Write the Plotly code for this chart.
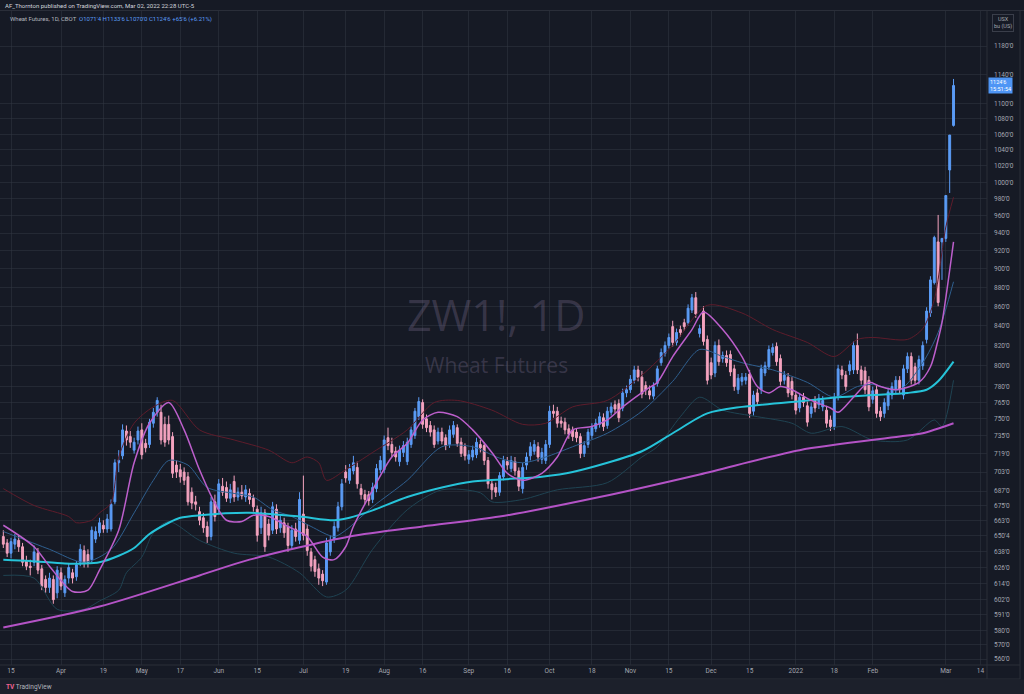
import pandas as pd
import plotly.graph_objects as go
import math

# ---------------- data ----------------
holidays = ["2021-04-02", "2021-05-31", "2021-07-05", "2021-09-06", "2021-11-25",
            "2021-12-24", "2022-01-17", "2022-02-21"]
dates = [d.strftime("%Y-%m-%d") for d in pd.bdate_range("2021-03-11", "2022-03-03")
         if d.strftime("%Y-%m-%d") not in holidays]

opens = [650, 645, 637, 644, 647, 642, 631, 627, 630, 637,
         625, 617, 611, 617, 607, 622, 607, 618, 622, 619,
         630, 639, 636, 632, 648, 653, 659, 656, 656, 678,
         711, 717, 739, 734, 722, 731, 740, 728, 727, 746,
         756, 756, 745, 745, 734, 709, 705, 703, 699, 686,
         678, 670, 665, 658, 650, 678, 672, 691, 690, 681,
         695, 682, 686, 682, 685, 681, 672, 657, 669, 660,
         655, 672, 657, 661, 658, 643, 656, 647, 668, 656,
         638, 632, 625, 621, 615, 638, 648, 657, 674, 703,
         696, 704, 707, 689, 684, 684, 680, 689, 705, 705,
         733, 727, 721, 712, 720, 712, 727, 735, 752, 765,
         750, 744, 740, 730, 738, 733, 727, 736, 742, 729,
         725, 714, 716, 718, 727, 726, 713, 693, 690, 686,
         699, 712, 706, 712, 704, 689, 709, 717, 721, 725,
         714, 713, 727, 757, 757, 748, 747, 741, 740, 738,
         734, 719, 727, 735, 741, 745, 751, 744, 756, 763,
         764, 760, 774, 777, 786, 796, 789, 781, 776, 771,
         783, 803, 812, 820, 839, 823, 836, 843, 843, 856,
         869, 832, 855, 826, 803, 793, 820, 807, 810, 811,
         797, 777, 785, 786, 792, 757, 774, 777, 793, 799,
         813, 819, 807, 786, 789, 785, 772, 760, 770, 762,
         755, 767, 763, 761, 758, 749, 743, 770, 796, 791,
         795, 796, 820, 796, 795, 786, 768, 777, 757, 755,
         762, 772, 777, 786, 772, 797, 809, 799, 786, 800,
         826, 853, 885, 930, 930, 934, 1015, 1071.5]

highs = [655, 648, 649, 652, 651, 645, 635, 632, 643, 641,
         628, 620, 622, 620, 627, 626, 620, 629, 625, 631,
         644, 643, 640, 658, 658, 665, 663, 668, 680, 714,
         722, 745, 744, 739, 733, 743, 746, 732, 750, 760,
         770, 763, 752, 753, 738, 713, 710, 707, 703, 690,
         683, 674, 669, 662, 682, 684, 697, 698, 695, 693,
         700, 690, 692, 692, 689, 684, 675, 674, 672, 664,
         678, 676, 667, 665, 661, 659, 661, 686, 700, 660,
         641, 635, 629, 624, 649, 651, 662, 678, 697, 709,
         710, 717, 712, 693, 688, 687, 694, 710, 717, 735,
         742, 733, 725, 726, 730, 733, 743, 760, 770, 768,
         754, 748, 744, 742, 742, 736, 744, 748, 745, 733,
         728, 722, 726, 733, 731, 729, 716, 697, 694, 703,
         717, 716, 717, 716, 707, 711, 720, 729, 731, 729,
         724, 731, 762, 763, 761, 752, 751, 745, 743, 741,
         737, 730, 741, 746, 750, 756, 755, 761, 765, 767,
         768, 778, 781, 791, 800, 800, 795, 785, 781, 784,
         800, 817, 824, 832, 845, 837, 840, 847, 862, 873,
         875, 841, 860, 830, 808, 824, 826, 814, 815, 815,
         801, 792, 793, 793, 796, 776, 778, 801, 804, 820,
         822, 823, 811, 795, 793, 789, 776, 774, 774, 766,
         765, 771, 773, 771, 762, 753, 774, 801, 800, 795,
         805, 824, 832, 800, 799, 790, 780, 781, 761, 769,
         779, 784, 790, 790, 801, 813, 813, 803, 810, 824,
         859, 892, 937, 961, 934, 984, 1059, 1133.75]

lows = [641, 634, 633, 640, 638, 627, 624, 620, 627, 621,
        609, 607, 607, 599, 603, 609, 604, 614, 614, 616,
        627, 626, 626, 630, 645, 650, 653, 653, 654, 676,
        703, 714, 726, 724, 719, 727, 714, 720, 724, 742,
        752, 727, 725, 727, 698, 698, 694, 692, 675, 672,
        671, 659, 653, 645, 647, 662, 669, 683, 678, 677,
        678, 679, 680, 678, 676, 670, 646, 652, 638, 647,
        652, 652, 653, 649, 638, 640, 646, 644, 647, 635,
        623, 619, 613, 612, 613, 635, 645, 654, 671, 694,
        693, 701, 689, 680, 676, 675, 677, 686, 702, 702,
        722, 716, 712, 708, 716, 709, 724, 732, 749, 741,
        738, 734, 724, 727, 727, 722, 724, 733, 725, 716,
        713, 710, 713, 715, 720, 709, 689, 680, 682, 683,
        696, 705, 703, 700, 687, 685, 705, 713, 718, 712,
        710, 710, 724, 751, 742, 742, 736, 732, 730, 729,
        715, 716, 724, 732, 738, 742, 739, 741, 753, 755,
        747, 757, 770, 774, 783, 785, 769, 772, 768, 768,
        780, 800, 809, 817, 819, 820, 829, 835, 840, 853,
        848, 828, 820, 782, 787, 789, 800, 803, 799, 790,
        776, 773, 781, 782, 751, 753, 762, 773, 790, 796,
        810, 800, 781, 782, 770, 768, 754, 756, 761, 743,
        751, 756, 759, 757, 742, 739, 740, 767, 787, 776,
        791, 792, 792, 782, 773, 757, 764, 751, 748, 751,
        758, 768, 773, 773, 768, 793, 782, 782, 782, 796,
        822, 849, 883, 860, 888, 930, 987, 1070]

closes = [644, 637, 646, 648, 642, 630, 627, 626, 638, 624,
          612, 611, 618, 602, 624, 612, 617, 626, 618, 628,
          640, 629, 630, 655, 654, 661, 656, 664, 676, 711,
          713, 740, 731, 729, 729, 739, 718, 724, 747, 756,
          767, 731, 729, 731, 702, 703, 699, 696, 678, 677,
          676, 663, 657, 650, 678, 666, 693, 686, 681, 688,
          682, 686, 683, 688, 680, 674, 651, 669, 642, 651,
          674, 656, 663, 653, 643, 655, 650, 680, 651, 639,
          627, 623, 618, 616, 645, 647, 658, 674, 693, 698,
          706, 711, 693, 684, 680, 679, 690, 706, 713, 731,
          726, 720, 716, 722, 726, 729, 740, 757, 766, 745,
          742, 738, 727, 738, 730, 726, 740, 744, 728, 719,
          717, 718, 722, 729, 724, 713, 693, 688, 686, 700,
          713, 709, 713, 704, 691, 707, 716, 725, 727, 716,
          720, 727, 757, 755, 746, 746, 740, 736, 734, 733,
          719, 726, 738, 742, 746, 752, 743, 757, 761, 759,
          751, 774, 777, 787, 796, 789, 773, 777, 772, 780,
          797, 813, 820, 828, 823, 833, 833, 839, 858, 869,
          852, 837, 824, 786, 791, 820, 804, 810, 803, 794,
          780, 788, 789, 789, 755, 772, 766, 797, 800, 816,
          818, 804, 785, 791, 774, 772, 758, 770, 765, 747,
          761, 760, 769, 767, 746, 743, 770, 797, 791, 780,
          801, 820, 796, 786, 777, 761, 776, 755, 752, 765,
          775, 780, 786, 777, 797, 809, 786, 786, 806, 820,
          855, 888, 935, 864, 934, 984, 1059, 1124.75]

# indicator lines: positions in `dates` and values
ma200_pos = [0, 25, 51, 64, 90, 109, 129, 155, 181, 207, 233, 239, 247]
ma200_val = [582, 597, 620, 632, 650, 658, 666, 682, 701, 722, 734, 737, 746]

ma100_pos = [0, 7, 16, 21, 25, 30, 34, 38, 43, 46, 51, 64, 77, 86, 90, 96, 105, 114, 122,
             140, 148, 166, 174, 183, 192, 209, 217, 226, 235, 240, 243, 247]
ma100_val = [632, 631, 629, 629, 630, 635, 641, 652, 661, 665, 667, 669, 666, 663, 665, 671,
             682, 690, 695, 699, 703, 721, 737, 755, 761, 767, 770, 772, 774, 777, 785, 804]

fast_pos = [0, 8, 12, 18, 22, 25, 30, 34, 38, 43, 47, 51, 55, 58, 62, 65, 69, 74, 79, 83, 86,
            89, 91, 96, 101, 105, 109, 113, 118, 122, 127, 131, 135, 140, 144, 148, 153, 157,
            161, 167, 170, 174, 179, 182, 187, 192, 196, 199, 202, 205, 210, 215, 217, 221,
            225, 228, 232, 238, 241, 243, 244, 247]
fast_val = [659, 642, 627, 608, 609, 624, 655, 711, 746, 765, 740, 705, 677, 663, 662, 667,
            666, 658, 650, 634, 632, 642, 658, 688, 716, 728, 749, 756, 752, 740, 720, 702,
            696, 702, 716, 740, 743, 749, 761, 777, 784, 809, 836, 854, 836, 809, 780, 774,
            780, 777, 767, 760, 756, 770, 784, 780, 777, 784, 799, 826, 843, 930]

basis_pos = [0, 12, 21, 28, 34, 39, 43, 48, 53, 60, 65, 70, 75, 80, 86, 89, 96, 105, 114,
             122, 129, 135, 141, 148, 157, 166, 174, 181, 187, 192, 200, 209, 216, 222, 226,
             233, 239, 243, 247]
basis_val = [654, 640, 630, 640, 669, 696, 713, 709, 690, 685, 682, 671.5, 666, 658, 650,
             655, 674, 696, 725, 725, 715, 711, 716, 725, 737, 757, 785, 816, 809, 803, 796,
             784, 770, 780, 782, 777, 803, 833, 886]

upper_pos = [0, 8, 17, 19, 23, 25, 28, 30, 34, 39, 44, 51, 60, 69, 75, 79, 82, 84, 89, 96,
             105, 112, 118, 127, 135, 141, 148, 157, 166, 174, 183, 192, 200, 209, 216, 222,
             226, 235, 239, 242, 245, 247]
upper_val = [689, 675, 666, 661, 663, 669, 677, 716, 746, 761, 767, 740, 731, 722, 711, 716,
             711, 696, 705, 720, 740, 765, 767, 758, 745, 746, 761, 767, 791, 820, 861, 853,
             836, 823, 809, 826, 828, 826, 837, 867, 947, 982]

lower_pos = [0, 8, 14, 21, 25, 30, 32, 36, 39, 43, 51, 60, 69, 77, 84, 89, 96, 105, 114, 124,
             127, 135, 144, 157, 166, 170, 176, 181, 187, 196, 205, 210, 218, 226, 235, 242,
             244, 247]
lower_val = [620, 618, 595, 595, 601, 609, 622, 634, 653, 662, 647, 637, 634, 622, 604, 609,
             640, 671.5, 688, 685.5, 678, 680, 688, 694, 716, 725, 752, 770, 758, 752, 746,
             737, 743, 731, 731, 749, 743, 786]

tick_dates = ["2021-03-15", "2021-04-01", "2021-04-19", "2021-05-03", "2021-05-17",
              "2021-06-01", "2021-06-15", "2021-07-01", "2021-07-19", "2021-08-02",
              "2021-08-16", "2021-09-01", "2021-09-16", "2021-10-01", "2021-10-18",
              "2021-11-01", "2021-11-15", "2021-12-01", "2021-12-15", "2022-01-03",
              "2022-01-18", "2022-02-01", "2022-03-01", "2022-03-14"]
tick_labels = ["15", "Apr", "19", "May", "17", "Jun", "15", "Jul", "19", "Aug", "16", "Sep",
               "16", "Oct", "18", "Nov", "15", "Dec", "15", "2022", "18", "Feb", "Mar", "14"]

price_ticks = [560, 570, 580, 591, 602, 614, 626, 638, 650.5, 663, 675, 687, 703, 719, 735,
               750, 765, 780, 800, 820, 840, 860, 880, 900, 920, 940, 960, 980, 1000, 1020,
               1040, 1060, 1080, 1100, 1140, 1180]
price_labels = ["560'0", "570'0", "580'0", "591'0", "602'0", "614'0", "626'0", "638'0",
                "650'4", "663'0", "675'0", "687'0", "703'0", "719'0", "735'0", "750'0",
                "765'0", "780'0", "800'0", "820'0", "840'0", "860'0", "880'0", "900'0",
                "920'0", "940'0", "960'0", "980'0", "1000'0", "1020'0", "1040'0", "1060'0",
                "1080'0", "1100'0", "1140'0", "1180'0"]

# ---------------- style ----------------
BG = "#161a25"
GRID = "rgba(50,54,66,0.55)"
UP = "#5b9cf6"
DOWN = "#f4a3bf"
TXT = "#a3a6af"

W, H = 1024, 694
L, R, T, B = 0, 37, 11, 29
PW, PH = W - L - R, H - T - B


def px(xp):
    return (xp - L) / PW


def py(yp):
    return (H - B - yp) / PH


fig = go.Figure()

for pos, val, col, wid in [
    (upper_pos, upper_val, "#5e1c2b", 1),
    (lower_pos, lower_val, "#1f4352", 1),
    (basis_pos, basis_val, "#2f5f8f", 1),
]:
    fig.add_trace(go.Scatter(x=[dates[i] for i in pos], y=val, mode="lines",
                             line=dict(color=col, width=wid, shape="spline", smoothing=0.8),
                             hoverinfo="skip", showlegend=False))

fig.add_trace(go.Candlestick(
    x=dates, open=opens, high=highs, low=lows, close=closes,
    increasing=dict(line=dict(color=UP, width=1), fillcolor=UP),
    decreasing=dict(line=dict(color=DOWN, width=1), fillcolor=DOWN),
    whiskerwidth=0, showlegend=False, hoverinfo="skip"))

for pos, val, col, wid in [
    (ma200_pos, ma200_val, "#b453c6", 2),
    (ma100_pos, ma100_val, "#26c3d9", 2),
    (fast_pos, fast_val, "#bd5fcc", 1.5),
]:
    fig.add_trace(go.Scatter(x=[dates[i] for i in pos], y=val, mode="lines",
                             line=dict(color=col, width=wid, shape="spline", smoothing=0.8),
                             hoverinfo="skip", showlegend=False))

last_close = closes[-1]

fig.update_layout(
    width=W, height=H,
    margin=dict(l=L, r=R, t=T, b=B),
    paper_bgcolor=BG, plot_bgcolor=BG,
    showlegend=False,
    xaxis=dict(
        type="date",
        rangebreaks=[dict(bounds=["sat", "mon"]), dict(values=holidays)],
        range=["2021-03-10 03:20", "2022-03-15 16:48"],
        tickmode="array", tickvals=tick_dates, ticktext=tick_labels,
        tickfont=dict(size=6.5, color=TXT, family="Roboto"),
        showgrid=True, gridcolor=GRID, gridwidth=1,
        zeroline=False, showline=False, ticks="",
        rangeslider=dict(visible=False), fixedrange=True,
    ),
    yaxis=dict(
        type="log", side="right",
        range=[2.7451, 3.0904],
        tickmode="array", tickvals=price_ticks, ticktext=price_labels,
        tickfont=dict(size=6.5, color=TXT, family="Roboto"),
        showgrid=True, gridcolor=GRID, gridwidth=1,
        zeroline=False, showline=False, ticks="",
        ticklabelstandoff=6,
    ),
)

shapes = [
    # last price line
    dict(type="line", xref="paper", yref="y", x0=0, x1=1,
         y0=math.log10(last_close), y1=math.log10(last_close),
         line=dict(color="rgba(91,156,246,0.55)", width=1, dash="dot")),
    # header separator
    dict(type="line", xref="paper", yref="paper", x0=px(0), x1=px(W), y0=py(10.5), y1=py(10.5),
         line=dict(color="#2a2e39", width=1)),
    # price axis separator
    dict(type="line", xref="paper", yref="paper", x0=1, x1=1, y0=py(679), y1=py(11),
         line=dict(color="#2a2e39", width=1)),
    dict(type="line", xref="paper", yref="paper", x0=px(1020), x1=px(1020), y0=py(679), y1=py(11),
         line=dict(color="#2a2e39", width=1)),
    # time axis borders
    dict(type="line", xref="paper", yref="paper", x0=0, x1=px(1020), y0=0, y1=0,
         line=dict(color="#2a2e39", width=1)),
    dict(type="line", xref="paper", yref="paper", x0=0, x1=px(1020), y0=py(679), y1=py(679),
         line=dict(color="#2a2e39", width=1)),
    # footer
    dict(type="rect", xref="paper", yref="paper", x0=px(0), x1=px(W), y0=py(694), y1=py(679.5),
         fillcolor="#1c202b", line=dict(width=0), layer="above"),
]
fig.update_layout(shapes=shapes)

ann = [
    dict(text="AF_Thornton published on TradingView.com, Mar 02, 2022 22:28 UTC-5",
         x=px(3), y=py(5), xref="paper", yref="paper", xanchor="left", yanchor="middle",
         showarrow=False, font=dict(size=6, color="#d1d4dc", family="Roboto")),
    dict(text=("Wheat Futures, 1D, CBOT  <span style='color:#5b9cf6'>O1071'4 H1133'6 "
               "L1070'0 C1124'6 +65'6 (+6.21%)</span>"),
         x=px(8), y=py(19), xref="paper", yref="paper", xanchor="left", yanchor="middle",
         showarrow=False, font=dict(size=6, color="#b2b5be", family="Roboto")),
    dict(text="USX<br>bu (US)", x=px(1003), y=py(23), xref="paper", yref="paper",
         xanchor="center", yanchor="middle", showarrow=False, align="center",
         bordercolor="#3a3e4a", borderwidth=1, borderpad=1,
         font=dict(size=5.5, color="#a3a6af", family="Roboto")),
    dict(text="1124'6<br>15:51:54", x=1.0, y=math.log10(last_close), xref="paper", yref="y",
         xanchor="left", yanchor="middle", showarrow=False, align="left",
         bgcolor="#4e95f5", borderpad=1, xshift=1,
         font=dict(size=5.5, color="#ffffff", family="Roboto")),
    dict(text="ZW1!, 1D", x=px(496), y=py(315), xref="paper", yref="paper",
         xanchor="center", yanchor="middle", showarrow=False,
         font=dict(size=43, color="rgba(125,112,145,0.33)", family="Open Sans")),
    dict(text="Wheat Futures", x=px(496), y=py(365), xref="paper", yref="paper",
         xanchor="center", yanchor="middle", showarrow=False,
         font=dict(size=21, color="rgba(125,112,145,0.33)", family="Open Sans")),
    dict(text="<span style='color:#f06292'><b>TV</b></span> TradingView", x=px(4), y=py(687),
         xref="paper", yref="paper", xanchor="left", yanchor="middle", showarrow=False,
         font=dict(size=6.5, color="#b2b5be", family="Roboto")),
]
fig.update_layout(annotations=ann)

fig.write_html("out.html")
